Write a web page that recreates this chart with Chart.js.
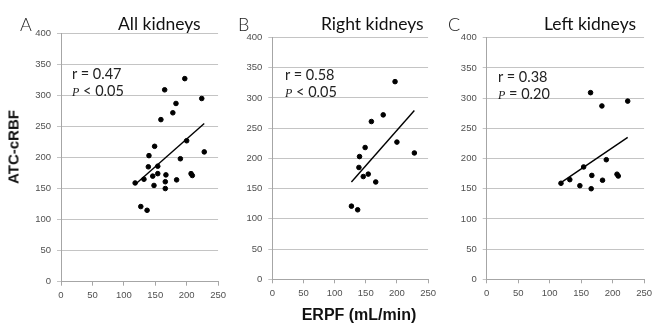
<!DOCTYPE html>
<html>
<head>
<meta charset="utf-8">
<script src="https://cdn.jsdelivr.net/npm/chart.js@4.4.1/dist/chart.umd.min.js"></script>
<style>
  body { margin: 0; width: 656px; height: 323px; background: #fff; position: relative; overflow: hidden; font-family: Lato, "Open Sans", sans-serif; }
  canvas { position: absolute; top: 0; }
  .lbl { position: absolute; white-space: nowrap; line-height: 1; transform: translateY(-50%); color: #111; }
  .letter { font-size: 18px; font-weight: 300; color: #222; }
  .ttl { font-size: 17.5px; }
  .ann { font-size: 14.5px; color: #222; }
  .ann i { font-size: 12px; font-family: "Liberation Serif", serif; }
  .axt { font-family: "Liberation Sans", Arial, sans-serif; font-weight: bold; color: #111; }
</style>
</head>
<body>
<canvas id="chartA" width="230" height="323" style="left:0px"></canvas>
<canvas id="chartB" width="210" height="323" style="left:230px"></canvas>
<canvas id="chartC" width="216" height="323" style="left:440px"></canvas>

<div class="lbl letter" style="left:20px;top:24px">A</div>
<div class="lbl letter" style="left:238px;top:24px">B</div>
<div class="lbl letter" style="left:448px;top:24px">C</div>

<div class="lbl ttl" style="left:118px;top:24px">All kidneys</div>
<div class="lbl ttl" style="left:321px;top:24px">Right kidneys</div>
<div class="lbl ttl" style="left:544px;top:24px">Left kidneys</div>

<div class="lbl ann" style="left:72px;top:74px">r = 0.47</div>
<div class="lbl ann" style="left:72px;top:91px"><i>P</i> &lt; 0.05</div>
<div class="lbl ann" style="left:285px;top:75px">r = 0.58</div>
<div class="lbl ann" style="left:285px;top:92px"><i>P</i> &lt; 0.05</div>
<div class="lbl ann" style="left:498px;top:77px">r = 0.38</div>
<div class="lbl ann" style="left:498px;top:94px"><i>P</i> = 0.20</div>

<div class="lbl axt" style="left:12.5px;top:146.5px;font-size:15px;transform:translate(-50%,-50%) rotate(-90deg)">ATC-cRBF</div>
<div class="lbl axt" style="left:359px;top:315px;font-size:16px;transform:translate(-50%,-50%)">ERPF (mL/min)</div>

<script>
// ERPF (x) and ATC-cRBF (y)
var rightErpf = [127, 137, 139, 140, 146, 149, 154, 159, 166, 178, 197, 200, 228];
var rightRbf  = [121, 115, 185, 203, 170, 218, 174, 261, 161, 272, 327, 227, 209];
var leftErpf  = [118, 132, 148, 154, 165, 166, 167, 183, 184, 190, 207, 209, 224];
var leftRbf   = [159, 165, 155, 186, 309, 150, 172, 287, 164, 198, 174, 171, 295];
var allErpf = rightErpf.concat(leftErpf);
var allRbf  = rightRbf.concat(leftRbf);

var xTicks = [0, 50, 100, 150, 200, 250];
var yTicks = [0, 50, 100, 150, 200, 250, 300, 350, 400];

function toPoints(xs, ys) {
  return xs.map(function(x, i) { return {x: x, y: ys[i]}; });
}

// least squares trend line over the data range
function trendLine(xs, ys) {
  var n = xs.length, mx = 0, my = 0;
  for (var i = 0; i < n; i++) { mx += xs[i]; my += ys[i]; }
  mx /= n; my /= n;
  var sxy = 0, sxx = 0;
  for (var j = 0; j < n; j++) { sxy += (xs[j] - mx) * (ys[j] - my); sxx += (xs[j] - mx) * (xs[j] - mx); }
  var b = sxy / sxx, a = my - b * mx;
  var lo = Math.min.apply(null, xs), hi = Math.max.apply(null, xs);
  return [{x: lo, y: a + b * lo}, {x: hi, y: a + b * hi}];
}

function makePanel(id, xs, ys, box) {
  new Chart(document.getElementById(id), {
    type: 'scatter',
    data: {
      datasets: [{
        data: toPoints(xs, ys),
        backgroundColor: '#000',
        borderColor: '#000',
        pointRadius: 2.3,
        pointHoverRadius: 2.3
      }, {
        type: 'line',
        data: trendLine(xs, ys),
        borderColor: '#000',
        borderWidth: 1.4,
        pointRadius: 0,
        fill: false
      }]
    },
    options: {
      responsive: false,
      animation: false,
      events: [],
      layout: { padding: { top: box.top, right: box.right, left: 0, bottom: 0 } },
      plugins: { legend: { display: false }, tooltip: { enabled: false } },
      scales: {
        x: {
          type: 'linear', min: 0, max: 250,
          afterBuildTicks: function(s) { s.ticks = xTicks.map(function(v) { return {value: v}; }); },
          afterFit: function(s) { s.height = box.xh; },
          grid: { drawOnChartArea: false, drawTicks: true, tickLength: 4, color: '#a6a6a6' },
          border: { color: '#a6a6a6' },
          ticks: { color: '#505050', padding: 4, maxRotation: 0, font: { family: 'Liberation Sans', size: 9.5 } }
        },
        y: {
          type: 'linear', min: 0, max: 400,
          afterBuildTicks: function(s) { s.ticks = yTicks.map(function(v) { return {value: v}; }); },
          afterFit: function(s) { s.width = box.yw; },
          grid: { drawTicks: true, tickLength: 4, color: '#c4c4c4' },
          border: { color: '#a6a6a6' },
          ticks: { color: '#505050', padding: 6, font: { family: 'Liberation Sans', size: 9.5 } }
        }
      }
    }
  });
}

makePanel('chartA', allErpf, allRbf, { top: 33.3, right: 9.3, yw: 61, xh: 41.3 });
makePanel('chartB', rightErpf, rightRbf, { top: 37.5, right: 6.7, yw: 42.3, xh: 43.7 });
makePanel('chartC', leftErpf, leftRbf, { top: 37.7, right: 8.7, yw: 46.7, xh: 43.7 });
</script>
</body>
</html>
